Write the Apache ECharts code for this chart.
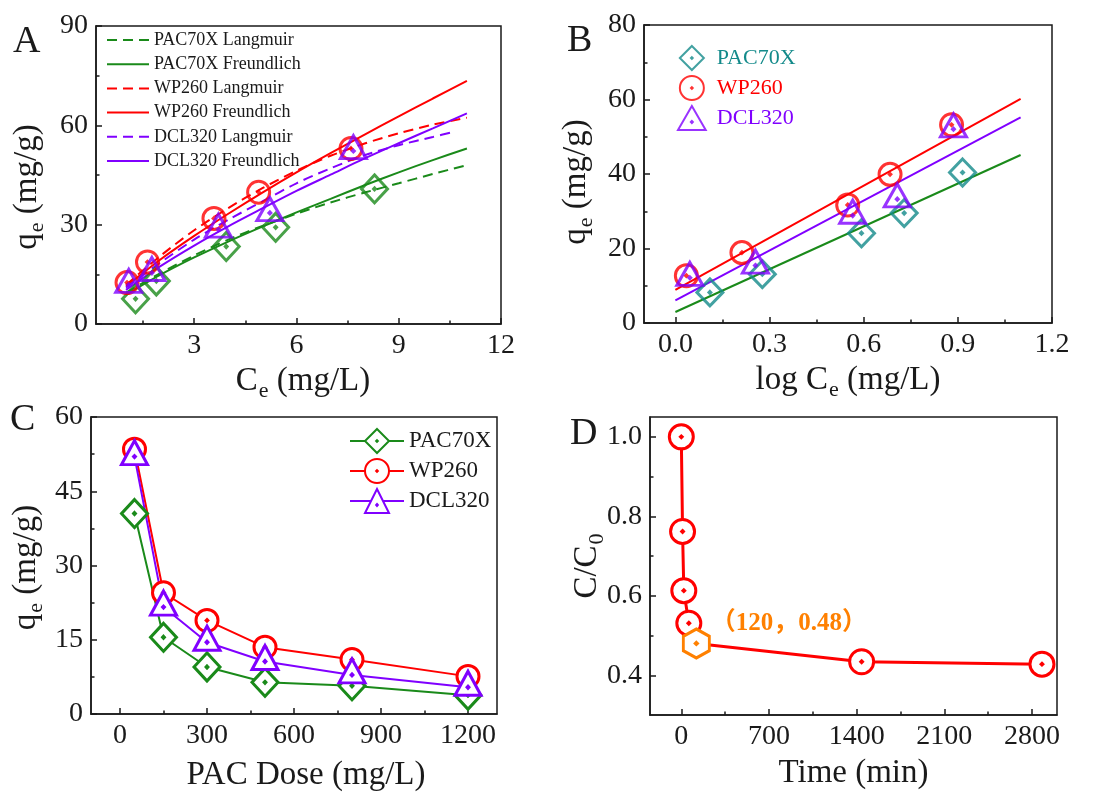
<!DOCTYPE html>
<html><head><meta charset="utf-8">
<script src="https://cdn.jsdelivr.net/npm/echarts@6/dist/echarts.min.js"></script>
<style>html,body{margin:0;padding:0;background:#fff;}#c{width:1098px;height:792px;}</style>
</head><body><div id="c"></div>
<script>
// ---------------- data ----------------
// Panel A : qe vs Ce with isotherm fits
const A_CE_PAC70X = [1.28, 1.89, 3.94, 5.39, 8.29];
const A_QE_PAC70X = [7.6, 13.0, 23.4, 29.2, 40.8];
const A_CE_WP260 = [1.03, 1.63, 3.58, 4.89, 7.60];
const A_QE_WP260 = [12.5, 18.7, 31.9, 39.8, 53.0];
const A_CE_DCL320 = [1.08, 1.76, 3.71, 5.22, 7.67];
const A_QE_DCL320 = [11.8, 15.4, 28.5, 33.5, 52.2];
const A_FIT_CE = [1, 2, 3, 4, 5, 6, 7, 8, 9, 10, 11];
const A_FIT_CE_DCL320_LANG = [1, 2, 3, 4, 5, 6, 7, 8, 9, 10, 10.6];
const A_PAC70X_LANG = [9.5, 15.3, 20.7, 25.5, 29.6, 33.3, 36.7, 39.7, 42.5, 45.3, 48.0];
const A_PAC70X_FREU = [8.8, 14.8, 20.1, 24.9, 29.4, 33.7, 37.8, 41.9, 45.8, 49.5, 53.0];
const A_WP260_LANG = [11.8, 20.5, 28.3, 35.0, 41.0, 46.3, 50.8, 54.5, 57.6, 60.2, 62.3];
const A_WP260_FREU = [11.3, 19.4, 26.6, 33.3, 39.7, 45.8, 51.6, 57.2, 62.7, 68.1, 73.4];
const A_DCL320_LANG = [11.0, 18.5, 25.5, 31.5, 37.0, 42.5, 47.0, 51.0, 54.0, 56.5, 58.0];
const A_DCL320_FREU = [10.3, 17.4, 23.7, 29.5, 34.9, 40.2, 45.1, 50.0, 54.6, 59.1, 63.6];
const A_X_TICKS = [3, 6, 9, 12], A_X_MINOR = [1.5, 4.5, 7.5, 10.5];
const A_Y_TICKS = [0, 30, 60, 90], A_Y_MINOR = [15, 45, 75];

// Panel B : qe vs log Ce with linear fits
const B_LOGCE_PAC70X = [0.110, 0.277, 0.593, 0.729, 0.915];
const B_QE_PAC70X = [8.2, 13.1, 24.1, 29.5, 40.4];
const B_LOGCE_WP260 = [0.035, 0.212, 0.549, 0.684, 0.880];
const B_QE_WP260 = [12.7, 18.9, 31.7, 39.9, 53.2];
const B_LOGCE_DCL320 = [0.046, 0.255, 0.565, 0.707, 0.886];
const B_QE_DCL320 = [12.1, 15.4, 28.8, 33.2, 52.0];
const B_FIT_LOGCE = [0, 1.1];
const B_FIT_PAC70X = [2.95, 45.1];
const B_FIT_WP260 = [8.9, 60.2];
const B_FIT_DCL320 = [6.1, 55.2];
const B_X_TICKS = [0, 0.3, 0.6, 0.9, 1.2], B_X_MINOR = [0.15, 0.45, 0.75, 1.05];
const B_Y_TICKS = [0, 20, 40, 60, 80], B_Y_MINOR = [10, 30, 50, 70];

// Panel C : qe vs PAC dose
const C_DOSE = [50, 150, 300, 500, 800, 1200];
const C_QE_PAC70X = [40.5, 15.5, 9.5, 6.4, 5.7, 3.8];
const C_QE_WP260 = [53.5, 24.5, 18.9, 13.5, 11.0, 7.6];
const C_QE_DCL320 = [52.0, 21.6, 14.5, 10.6, 7.9, 5.4];
const C_X_TICKS = [0, 300, 600, 900, 1200], C_X_MINOR = [150, 450, 750, 1050];
const C_Y_TICKS = [0, 15, 30, 45, 60], C_Y_MINOR = [7.5, 22.5, 37.5, 52.5];

// Panel D : C/C0 vs time
const D_TIME = [0, 10, 20, 60, 120, 1440, 2880];
const D_RATIO = [1.0, 0.762, 0.613, 0.531, 0.48, 0.434, 0.428];
const D_HIGHLIGHT = 4;
const D_X_TICKS = [0, 700, 1400, 2100, 2800], D_X_MINOR = [350, 1050, 1750, 2450];
const D_Y_TICKS = [0.4, 0.6, 0.8, 1.0], D_Y_MINOR = [0.5, 0.7, 0.9];

// ---------------- styles ----------------
const FONT = "'Liberation Serif','Times New Roman',serif";
const LABEL_FONT = "'Liberation Serif','Noto Sans CJK SC',serif";
const INK = '#1a1a1a';
const GREEN = '#1a8a1a', TEAL = '#138a8a', RED = '#ff0000', PURPLE = '#8000ff', ORANGE = '#ff8000';
const BORDER = 3;
const DOT = ' M0,-0.07L0.07,0L0,0.07L-0.07,0Z';
const SYM_DIAMOND = 'path://M0,-1L1,0L0,1L-1,0Z' + DOT;
const SYM_CIRCLE = 'path://M1,0A1,1,0,1,1,-1,0A1,1,0,1,1,1,0Z' + DOT;
const SYM_TRIANGLE = 'path://M0,-1.1547L1,0.5774L-1,0.5774Z' + DOT;
const SYM_HEX = 'path://M0,-1L0.866,-0.5L0.866,0.5L0,1L-0.866,0.5L-0.866,-0.5Z' + DOT;

const GRIDS = [
  {left: 96, top: 26, width: 405, height: 298},
  {left: 644, top: 25, width: 408, height: 298},
  {left: 91, top: 417, width: 406, height: 297},
  {left: 650, top: 417, width: 407, height: 298}
];

const NAME_RICH = {
  m: {fontFamily: FONT, fontSize: 33, color: INK},
  s: {fontFamily: FONT, fontSize: 22, color: INK, padding: [20, 0, 0, 1]}
};

const grid = [], xAxis = [], yAxis = [];
function fmtInt(v) { return String(Math.round(v)); }
function fmt1(v) { return v.toFixed(1); }
function axisPair(gridIndex, ext, majors, minors, fmt, name, gap, pad) {
  const line = {color: INK, width: 1.5};
  const main = {
    type: 'value', gridIndex, min: ext[0], max: ext[1],
    splitLine: {show: false},
    axisLine: {show: true, onZero: false, lineStyle: line},
    axisTick: {show: true, inside: true, length: 6, customValues: majors, lineStyle: line},
    axisLabel: {show: true, customValues: majors, formatter: fmt, fontFamily: FONT, fontSize: 28, color: INK, margin: 8},
    name, nameLocation: 'middle', nameGap: gap, nameMoveOverlap: false,
    nameTextStyle: {fontFamily: FONT, fontSize: 33, color: INK, padding: pad, rich: NAME_RICH}
  };
  const aux = {
    type: 'value', gridIndex: gridIndex + 1, min: ext[0], max: ext[1],
    splitLine: {show: false},
    axisLine: {show: false, onZero: false},
    axisTick: {show: true, inside: true, length: 3.5, customValues: minors, lineStyle: line},
    axisLabel: {show: false, customValues: minors}
  };
  return [main, aux];
}
GRIDS.forEach(g => {
  grid.push(Object.assign({show: true, borderColor: INK, borderWidth: 1.5, outerBoundsMode: 'none', containLabel: false}, g));
  grid.push(Object.assign({show: false, outerBoundsMode: 'none', containLabel: false}, g));
});
xAxis.push(...axisPair(0, [0.12, 12], A_X_TICKS, A_X_MINOR, fmtInt, '{m|C}{s|e}{m| (mg/L)}', 36, [0, 0, 0, 9]));
yAxis.push(...axisPair(0, [0, 90], A_Y_TICKS, A_Y_MINOR, fmtInt, '{m|q}{s|e}{m| (mg/g)}', 48, [0, 24, 0, 0]));
xAxis.push(...axisPair(2, [-0.1, 1.2], B_X_TICKS, B_X_MINOR, fmt1, '{m|log C}{s|e}{m| (mg/L)}', 36, [0, 0, 0, 0]));
yAxis.push(...axisPair(2, [0, 80], B_Y_TICKS, B_Y_MINOR, fmtInt, '{m|q}{s|e}{m| (mg/g)}', 47, [0, 16, 0, 0]));
xAxis.push(...axisPair(4, [-100, 1300], C_X_TICKS, C_X_MINOR, fmtInt, '{m|PAC Dose (mg/L)}', 45, [0, 0, 0, 24]));
yAxis.push(...axisPair(4, [0, 60], C_Y_TICKS, C_Y_MINOR, fmtInt, '{m|q}{s|e}{m| (mg/g)}', 44, [0, 4, 0, 0]));
xAxis.push(...axisPair(6, [-250, 3000], D_X_TICKS, D_X_MINOR, fmtInt, '{m|Time (min)}', 42, [0, 0, 0, 0]));
yAxis.push(...axisPair(6, [0.3, 1.05], D_Y_TICKS, D_Y_MINOR, fmt1, '{m|C/C}{s|0}', 42, [0, 0, 0, 0]));

function pairs(xs, ys) { return xs.map((x, i) => [x, ys[i]]); }
const series = [];

// Panel A fits
const A_FITS = [
  {name: 'PAC70X Langmuir', x: A_FIT_CE, y: A_PAC70X_LANG, color: GREEN, dash: true},
  {name: 'PAC70X Freundlich', x: A_FIT_CE, y: A_PAC70X_FREU, color: GREEN, dash: false},
  {name: 'WP260 Langmuir', x: A_FIT_CE, y: A_WP260_LANG, color: RED, dash: true},
  {name: 'WP260 Freundlich', x: A_FIT_CE, y: A_WP260_FREU, color: RED, dash: false},
  {name: 'DCL320 Langmuir', x: A_FIT_CE_DCL320_LANG, y: A_DCL320_LANG, color: PURPLE, dash: true},
  {name: 'DCL320 Freundlich', x: A_FIT_CE, y: A_DCL320_FREU, color: PURPLE, dash: false}
];
A_FITS.forEach(f => series.push({
  type: 'line', name: f.name, xAxisIndex: 0, yAxisIndex: 0, data: pairs(f.x, f.y),
  symbol: 'none', showSymbol: false, smooth: 0.3, z: 2, silent: true,
  lineStyle: {color: f.color, width: 2, type: f.dash ? [10, 6] : 'solid'},
  itemStyle: {color: f.color}
}));

function scatter(name, xi, xs, ys, color, sym, size, offset) {
  return {
    type: 'scatter', name, xAxisIndex: xi, yAxisIndex: xi, data: pairs(xs, ys),
    symbol: sym, symbolSize: size, symbolOffset: offset || [0, 0], z: 4, silent: true,
    itemStyle: {color: 'rgba(0,0,0,0)', borderColor: color, borderWidth: BORDER}
  };
}
series.push(scatter('A-PAC70X', 0, A_CE_PAC70X, A_QE_PAC70X, GREEN, SYM_DIAMOND, [26, 28]));
series.push(scatter('A-WP260', 0, A_CE_WP260, A_QE_WP260, RED, SYM_CIRCLE, [22, 22]));
series.push(scatter('A-DCL320', 0, A_CE_DCL320, A_QE_DCL320, PURPLE, SYM_TRIANGLE, [26, 23], [0, -4]));

// Panel B
[[B_FIT_PAC70X, GREEN], [B_FIT_WP260, RED], [B_FIT_DCL320, PURPLE]].forEach((f, i) => series.push({
  type: 'line', name: 'B-fit' + i, xAxisIndex: 2, yAxisIndex: 2, data: pairs(B_FIT_LOGCE, f[0]),
  symbol: 'none', showSymbol: false, z: 2, silent: true,
  lineStyle: {color: f[1], width: 2}, itemStyle: {color: f[1]}
}));
series.push(scatter('B-PAC70X', 2, B_LOGCE_PAC70X, B_QE_PAC70X, TEAL, SYM_DIAMOND, [26, 27]));
series.push(scatter('B-WP260', 2, B_LOGCE_WP260, B_QE_WP260, RED, SYM_CIRCLE, [22, 22]));
series.push(scatter('B-DCL320', 2, B_LOGCE_DCL320, B_QE_DCL320, PURPLE, SYM_TRIANGLE, [26, 23], [0, -4]));

// Panel C
function lineSeries(name, xi, xs, ys, color, sym, size, offset, width) {
  return {
    type: 'line', name, xAxisIndex: xi, yAxisIndex: xi, data: pairs(xs, ys),
    symbol: sym, symbolSize: size, symbolOffset: offset || [0, 0], showSymbol: true, z: 3, silent: true,
    lineStyle: {color, width: width || 2},
    itemStyle: {color: '#fff', borderColor: color, borderWidth: BORDER}
  };
}
series.push(lineSeries('C-PAC70X', 4, C_DOSE, C_QE_PAC70X, GREEN, SYM_DIAMOND, [26, 28]));
series.push(lineSeries('C-WP260', 4, C_DOSE, C_QE_WP260, RED, SYM_CIRCLE, [22, 22]));
series.push(lineSeries('C-DCL320', 4, C_DOSE, C_QE_DCL320, PURPLE, SYM_TRIANGLE, [26, 24], [0, -4]));

// Panel D
const dSeries = lineSeries('D-kinetics', 6, D_TIME, D_RATIO, RED, SYM_CIRCLE, [24, 24], null, 3);
dSeries.data = D_TIME.map((t, i) => i !== D_HIGHLIGHT ? [t, D_RATIO[i]] : {
  value: [t, D_RATIO[i]], symbol: SYM_HEX, symbolSize: [26, 29],
  itemStyle: {color: '#fff', borderColor: ORANGE, borderWidth: BORDER},
  label: {
    show: true, position: 'right', distance: 5, offset: [-5, -20],
    formatter: '（' + t + '，' + D_RATIO[i].toFixed(2) + '）',
    color: ORANGE, fontFamily: LABEL_FONT, fontWeight: 'bold', fontSize: 25
  }
});
series.push(dSeries);

const legend = [
  {
    left: 106, top: 30, orient: 'vertical', padding: 0, itemWidth: 42, itemHeight: 20, itemGap: 4.2,
    selectedMode: false, data: A_FITS.map(f => f.name), itemStyle: {opacity: 0},
    textStyle: {fontFamily: FONT, fontSize: 18, color: INK, lineHeight: 20}
  },
  {
    left: 677, top: 45, orient: 'vertical', padding: 0, itemWidth: 40, itemHeight: 24, itemGap: 4,
    selectedMode: false, formatter: n => n.slice(2),
    data: [
      {name: 'B-PAC70X', textStyle: {color: TEAL}},
      {name: 'B-WP260', textStyle: {color: RED}},
      {name: 'B-DCL320', textStyle: {color: PURPLE}}
    ],
    textStyle: {fontFamily: FONT, fontSize: 22, lineHeight: 24}
  },
  {
    left: 349, top: 426, orient: 'vertical', padding: 0, itemWidth: 54, itemHeight: 30, itemGap: 0,
    selectedMode: false, formatter: n => n.slice(2),
    data: ['C-PAC70X', 'C-WP260', 'C-DCL320'],
    textStyle: {fontFamily: FONT, fontSize: 23, color: INK, lineHeight: 30}
  }
];

function letter(t, x, y) {
  return {type: 'text', x, y, style: {text: t, fontFamily: FONT, fontSize: 38, fill: INK, align: 'left', verticalAlign: 'middle'}};
}
const graphic = [letter('A', 13, 42), letter('B', 567, 41), letter('C', 10, 420), letter('D', 570, 434)];

const chart = echarts.init(document.getElementById('c'), null, {renderer: 'canvas'});
chart.setOption({
  animation: false, backgroundColor: '#fff', textStyle: {fontFamily: FONT},
  grid, xAxis, yAxis, series, legend, graphic, tooltip: {show: false}
});
</script></body></html>
